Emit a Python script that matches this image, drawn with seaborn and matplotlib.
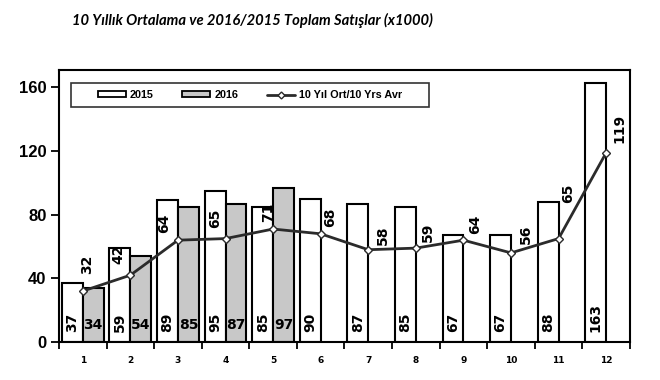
import numpy as np
import pandas as pd
import matplotlib
matplotlib.use("Agg")
import matplotlib.pyplot as plt
from matplotlib.patches import Patch, Rectangle
from matplotlib.lines import Line2D
import seaborn as sns

# ─── DATA ─────────────────────────────────────────────────────────────────────
months      = ["1", "2", "3", "4", "5", "6", "7", "8", "9", "10", "11", "12"]
sales_2015  = [37, 59, 89, 95, 85, 90, 87, 85, 67, 67, 88, 163]
sales_2016  = [34, 54, 85, 87, 97, None, None, None, None, None, None, None]
avg_10yr    = [32, 42, 64, 65, 71, 68, 58, 59, 64, 56, 65, 119]

# label offsets for the average line (pixels from point)
avg_label_dx = [4, -12, -14, -10, -5, 9, 15, 12, 12, 15, 10, 13]
avg_label_dy = [17, 11, 7, 11, 7, 7, 5, 6, 6, 9, 36, 10]

# ─── STYLE ────────────────────────────────────────────────────────────────────
sns.set_theme(style="white")
plt.rcParams.update({
    "font.family": ["DejaVu Sans"],
    "text.color": "black",
    "xtick.color": "black",
    "ytick.color": "black",
})

GRAY = "#c8c8c8"
LINE = "#2b2b2b"

df = pd.DataFrame({
    "month": months * 2,
    "year": ["2015"] * 12 + ["2016"] * 12,
    "value": sales_2015 + [np.nan if v is None else v for v in sales_2016],
})

fig = plt.figure(figsize=(6.6, 3.8), dpi=100)
ax = fig.add_axes([0.0894, 0.1, 0.8651, 0.716])

sns.barplot(data=df, x="month", y="value", hue="year", order=months,
            hue_order=["2015", "2016"], palette={"2015": "white", "2016": GRAY},
            width=0.88, gap=0, saturation=1, edgecolor="black", linewidth=1.5,
            legend=False, ax=ax)

xs = np.arange(len(months))
ax.plot(xs, avg_10yr, color=LINE, linewidth=2, marker="D", markersize=4.5,
        markerfacecolor="white", markeredgecolor=LINE, markeredgewidth=1, zorder=5)

# bar value labels
for i, v in enumerate(sales_2015):
    ax.text(i - 0.22, 6, f"{v}", rotation=90, ha="center", va="bottom",
            fontsize=10, fontweight="bold")
for i, v in enumerate(sales_2016):
    if v is not None:
        ax.text(i + 0.22, 6, f"{v}", ha="center", va="bottom",
                fontsize=10, fontweight="bold")

# average labels
for i, v in enumerate(avg_10yr):
    ax.annotate(f"{v}", (i, v), xytext=(avg_label_dx[i], avg_label_dy[i]),
                textcoords="offset pixels", rotation=90, ha="center", va="bottom",
                fontsize=10, fontweight="bold")

# axes
ax.set_xlim(-0.5, 11.5)
ax.set_ylim(0, 171)
ax.set_yticks([0, 40, 80, 120, 160])
ax.set_yticklabels(["0", "40", "80", "120", "160"], fontsize=12,
                   fontweight="bold", family="Liberation Sans")
ax.set_xticks(np.arange(-0.5, 12, 1))
ax.set_xticklabels([])
ax.set_xticks(xs, minor=True)
ax.set_xticklabels(months, minor=True, fontsize=6.5, fontweight="bold")
ax.tick_params(axis="x", which="major", direction="out", length=5, width=1.3,
               color="black", bottom=True)
ax.tick_params(axis="x", which="minor", length=0, pad=10)
ax.tick_params(axis="y", direction="out", length=6, width=1.3, color="black",
               left=True, pad=3)
ax.set_xlabel("")
ax.set_ylabel("")
for s in ax.spines.values():
    s.set_color("black")
    s.set_linewidth(1.5)

# legend box + entries
ax.add_patch(Rectangle((0.021, 0.864), 0.627, 0.088, transform=ax.transAxes,
                       facecolor="white", edgecolor="#333333", linewidth=1.2,
                       zorder=6))
handles = [
    Patch(facecolor="white", edgecolor="black", linewidth=1.3, label="2015"),
    Patch(facecolor=GRAY, edgecolor="black", linewidth=1.3, label="2016"),
    Line2D([0], [0], color=LINE, linewidth=2, marker="D", markersize=3.5,
           markerfacecolor="white", markeredgecolor=LINE,
           label="10 Yıl Ort/10 Yrs Avr"),
]
leg = ax.legend(handles=handles, ncol=3, loc="center",
                bbox_to_anchor=(0.021 + 0.627 / 2, 0.864 + 0.088 / 2),
                frameon=False,
                prop={"size": 7.8, "weight": "bold", "family": "Liberation Sans"},
                handlelength=2.6, handleheight=0.45, handletextpad=0.4,
                columnspacing=2.6, borderaxespad=0, borderpad=0)
leg.set_zorder(7)

fig.text(0.382, 0.947, "10 Yıllık Ortalama ve 2016/2015 Toplam Satışlar (x1000)",
         ha="center", va="center", fontsize=10.6, style="italic",
         fontweight="bold", family="Lato", color="black")

fig.savefig("out.png", dpi=100, facecolor="white")
